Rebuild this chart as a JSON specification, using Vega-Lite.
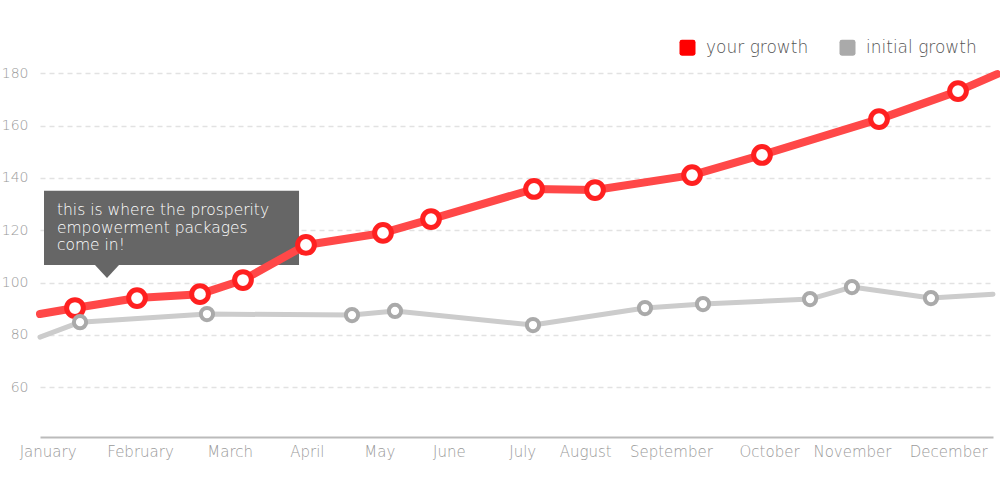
{
  "$schema": "https://vega.github.io/schema/vega-lite/v6.json",
  "width": 953,
  "height": 416,
  "autosize": {"type": "none"},
  "padding": {"left": 40, "top": 21, "right": 7, "bottom": 63},
  "background": "white",
  "config": {
    "view": {"stroke": null},
    "font": "DejaVu Sans",
    "axisY": {
      "domain": false, "ticks": false, "labelPadding": 12, "labelFontSize": 14,
      "labelColor": "#999999", "gridColor": "#e2e2e2", "gridDash": [5, 4], "gridWidth": 1.5,
      "labelFontWeight": 200
    },
    "axisX": {
      "grid": false, "ticks": false, "domainColor": "#bbbbbb", "domainWidth": 2,
      "labelPadding": 7, "labelFontSize": 15, "labelColor": "#999999", "labelFontWeight": 200
    }
  },
  "data": {
    "values": [
      {"series": "your growth", "x": 0, "value": 88.0},
      {"series": "your growth", "x": 36.7, "value": 90.3},
      {"series": "your growth", "x": 101.8, "value": 94.1},
      {"series": "your growth", "x": 167.9, "value": 95.6},
      {"series": "your growth", "x": 213.0, "value": 101.0},
      {"series": "your growth", "x": 279.1, "value": 114.4},
      {"series": "your growth", "x": 359.9, "value": 119.0},
      {"series": "your growth", "x": 410.3, "value": 124.3},
      {"series": "your growth", "x": 518.4, "value": 135.8},
      {"series": "your growth", "x": 582.4, "value": 135.4},
      {"series": "your growth", "x": 684.2, "value": 141.1},
      {"series": "your growth", "x": 757.6, "value": 148.8},
      {"series": "your growth", "x": 880.4, "value": 162.5},
      {"series": "your growth", "x": 963.3, "value": 173.2},
      {"series": "your growth", "x": 1004.2, "value": 179.7},
      {"series": "initial growth", "x": 0, "value": 79.2},
      {"series": "initial growth", "x": 42.0, "value": 84.9},
      {"series": "initial growth", "x": 175.2, "value": 88.0},
      {"series": "initial growth", "x": 327.4, "value": 87.6},
      {"series": "initial growth", "x": 372.5, "value": 89.2},
      {"series": "initial growth", "x": 517.3, "value": 83.8},
      {"series": "initial growth", "x": 634.8, "value": 90.3},
      {"series": "initial growth", "x": 695.7, "value": 91.8},
      {"series": "initial growth", "x": 808.0, "value": 93.7},
      {"series": "initial growth", "x": 852.0, "value": 98.3},
      {"series": "initial growth", "x": 934.9, "value": 94.1},
      {"series": "initial growth", "x": 1000, "value": 95.6}
    ]
  },
  "encoding": {
    "x": {
      "field": "x", "type": "quantitative",
      "scale": {"domain": [0, 1000], "nice": false, "zero": false},
      "axis": {
        "title": null,
        "values": [8, 105, 199, 280, 356, 429, 506, 572, 662, 765, 852, 953],
        "labelExpr": "['January','February','March','April','May','June','July','August','September','October','November','December'][indexof([8,105,199,280,356,429,506,572,662,765,852,953], datum.value)]",
        "labelOverlap": false, "labelFlush": false
      }
    },
    "y": {
      "field": "value", "type": "quantitative",
      "scale": {"domain": [41, 200], "nice": false, "zero": false},
      "axis": {"title": null, "values": [60, 80, 100, 120, 140, 160, 180]}
    }
  },
  "layer": [
    {
      "transform": [{"filter": "datum.x == 0 && datum.series == 'your growth'"}],
      "mark": {"type": "rect", "fill": "#666666"},
      "encoding": {
        "x": {"datum": 4.2, "type": "quantitative"},
        "x2": {"datum": 271.8},
        "y": {"datum": 135.1, "type": "quantitative"},
        "y2": {"datum": 106.7}
      }
    },
    {
      "transform": [{"filter": "datum.x == 0 && datum.series == 'your growth'"}],
      "mark": {"type": "point", "shape": "M-1,-0.55L1,-0.55L0,0.55Z", "filled": true, "fill": "#666666", "opacity": 1, "size": 576, "strokeWidth": 0},
      "encoding": {
        "x": {"datum": 70.3, "type": "quantitative"},
        "y": {"datum": 104.25, "type": "quantitative"}
      }
    },
    {
      "transform": [{"filter": "datum.x == 0 && datum.series == 'your growth'"}],
      "mark": {"type": "text", "text": ["this is where the prosperity", "empowerment packages", "come in!"], "align": "left", "baseline": "top", "fontSize": 15.5, "lineHeight": 17.5, "color": "white", "fontWeight": 300},
      "encoding": {
        "x": {"datum": 17.8, "type": "quantitative"},
        "y": {"datum": 130.3, "type": "quantitative"}
      }
    },
    {
      "transform": [{"filter": "datum.series == 'your growth'"}],
      "mark": {"type": "line", "color": "#ff4848", "strokeWidth": 8, "strokeCap": "round", "strokeJoin": "round"}
    },
    {
      "transform": [{"filter": "datum.series == 'your growth' && datum.x > 0 && datum.x < 1000"}],
      "mark": {"type": "point", "filled": true, "fill": "white", "stroke": "#ff2020", "strokeWidth": 5, "size": 280, "opacity": 1}
    },
    {
      "transform": [{"filter": "datum.series == 'initial growth'"}],
      "mark": {"type": "line", "color": "#cccccc", "strokeWidth": 5, "strokeCap": "round", "strokeJoin": "round"}
    },
    {
      "transform": [{"filter": "datum.series == 'initial growth' && datum.x > 0 && datum.x < 1000"}],
      "mark": {"type": "point", "filled": true, "fill": "white", "stroke": "#aaaaaa", "strokeWidth": 4, "size": 150, "opacity": 1}
    },
    {
      "mark": {"type": "point", "shape": "square", "filled": true, "opacity": 0},
      "encoding": {
        "color": {
          "field": "series", "type": "nominal",
          "scale": {"domain": ["your growth", "initial growth"], "range": ["#ff0000", "#aaaaaa"]},
          "legend": {
            "orient": "none", "legendX": 639, "legendY": 18, "direction": "horizontal",
            "title": null, "padding": 0,
            "symbolType": "M-1,-0.7Q-1,-1,-0.7,-1L0.7,-1Q1,-1,1,-0.7L1,0.7Q1,1,0.7,1L-0.7,1Q-1,1,-1,0.7Z",
            "symbolSize": 256, "symbolOpacity": 1, "symbolStrokeWidth": 0,
            "labelFontSize": 17, "labelColor": "#555555", "labelOffset": 10,
            "columnPadding": 30, "labelFontWeight": 200
          }
        }
      }
    }
  ]
}
